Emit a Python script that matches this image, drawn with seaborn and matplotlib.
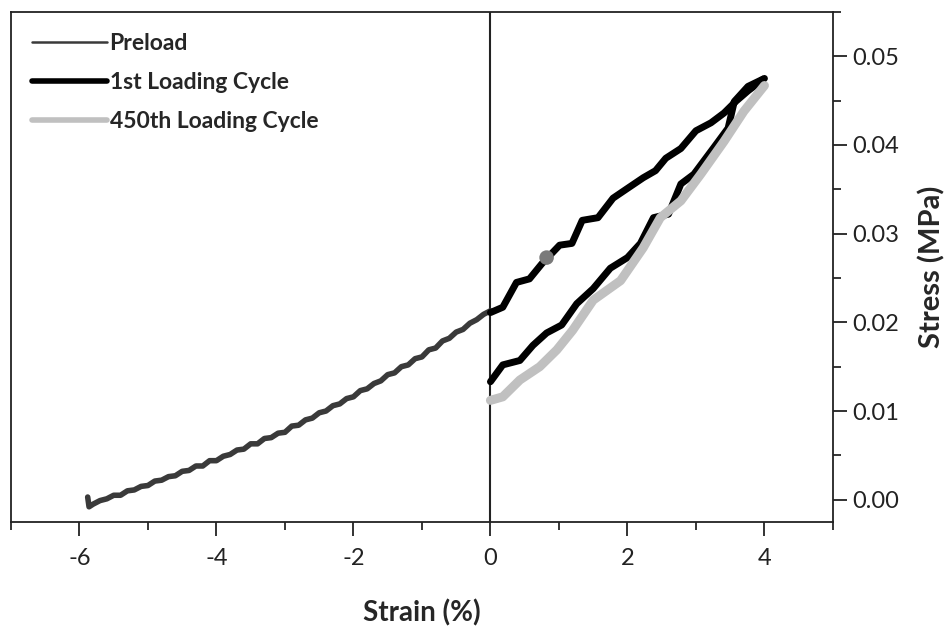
import numpy as np
import pandas as pd
import matplotlib
matplotlib.use("Agg")
import matplotlib.pyplot as plt
import seaborn as sns
from matplotlib.ticker import MultipleLocator, FormatStrFormatter

# Preload curve (strain %, stress MPa)
preload_strain = [-5.88, -5.86, -5.8, -5.7, -5.6, -5.5, -5.4, -5.3, -5.2, -5.1, -5.0,
                  -4.9, -4.8, -4.7, -4.6, -4.5, -4.4, -4.3, -4.2, -4.1, -4.0,
                  -3.9, -3.8, -3.7, -3.6, -3.5, -3.4, -3.3, -3.2, -3.1, -3.0,
                  -2.9, -2.8, -2.7, -2.6, -2.5, -2.4, -2.3, -2.2, -2.1, -2.0,
                  -1.9, -1.8, -1.7, -1.6, -1.5, -1.4, -1.3, -1.2, -1.1, -1.0,
                  -0.9, -0.8, -0.7, -0.6, -0.5, -0.4, -0.3, -0.2, -0.1, 0.0]
preload_stress = [0.0003, -0.0008, -0.0005, -0.0001, 0.0001, 0.0005, 0.0005, 0.0010, 0.0011, 0.0015, 0.0016,
                  0.0021, 0.0022, 0.0026, 0.0027, 0.0032, 0.0033, 0.0038, 0.0038, 0.0044, 0.0044,
                  0.0049, 0.0051, 0.0056, 0.0057, 0.0063, 0.0063, 0.0069, 0.0070, 0.0075, 0.0076,
                  0.0083, 0.0084, 0.0090, 0.0092, 0.0098, 0.0100, 0.0106, 0.0108, 0.0114, 0.0116,
                  0.0123, 0.0125, 0.0131, 0.0134, 0.0141, 0.0143, 0.0150, 0.0152, 0.0159, 0.0161,
                  0.0169, 0.0171, 0.0179, 0.0182, 0.0189, 0.0192, 0.0199, 0.0203, 0.0209, 0.0213]

# 1st loading cycle: lower branch up to 4 %, then upper branch back to 0
cycle1_strain = [0.0, 0.18, 0.43, 0.62, 0.82, 1.04, 1.26, 1.5, 1.75, 2.0, 2.19, 2.38, 2.6,
                 2.78, 2.97, 3.26, 3.47, 3.56, 3.76, 4.0,
                 3.76, 3.58, 3.41, 3.22, 3.0, 2.78, 2.56, 2.41, 2.23, 2.0, 1.79, 1.57,
                 1.34, 1.19, 1.01, 0.75, 0.57, 0.38, 0.18, 0.0]
cycle1_stress = [0.0133, 0.0152, 0.0157, 0.0174, 0.0188, 0.0197, 0.0221, 0.0238, 0.0261, 0.0273, 0.0289, 0.0318, 0.0322,
                 0.0356, 0.0367, 0.0397, 0.0419, 0.0449, 0.0466, 0.0475,
                 0.0461, 0.0449, 0.0436, 0.0425, 0.0416, 0.0396, 0.0385, 0.0371, 0.0363, 0.0351, 0.0340, 0.0318,
                 0.0315, 0.0289, 0.0287, 0.0266, 0.0249, 0.0245, 0.0217, 0.0211]

# 450th loading cycle
cycle450_strain = [0.0, 0.18, 0.43, 0.72, 0.97, 1.2, 1.5, 1.9, 2.23, 2.48, 2.78, 3.07, 3.41, 3.7, 4.0]
cycle450_stress = [0.0112, 0.0116, 0.0135, 0.0150, 0.0169, 0.0191, 0.0225, 0.0247, 0.0284, 0.0318, 0.0337,
                   0.0367, 0.0404, 0.0438, 0.0467]

# grey point on the 1st cycle
dot_strain = [0.82]
dot_stress = [0.0273]

sns.set_style("ticks")
plt.rcParams["font.family"] = ["Lato", "DejaVu Sans"]
plt.rcParams["axes.unicode_minus"] = False

fig = plt.figure(figsize=(9.53, 6.28), dpi=100)
ax = fig.add_axes([0.0115, 0.169, 0.8625, 0.812])

ax.axvline(0, color="#222222", lw=1.5, zorder=1)

sns.lineplot(x=preload_strain, y=preload_stress, sort=False, estimator=None,
             color="#3a3a3a", lw=4, ax=ax, label="Preload")
sns.lineplot(x=cycle1_strain, y=cycle1_stress, sort=False, estimator=None,
             color="black", lw=5, ax=ax, label="1st Loading Cycle")
sns.lineplot(x=cycle450_strain, y=cycle450_stress, sort=False, estimator=None,
             color="#c0c0c0", lw=6.5, ax=ax, label="450th Loading Cycle")
sns.scatterplot(x=dot_strain, y=dot_stress, color="#7a7a7a", s=110, ax=ax,
                edgecolor="none", zorder=5, legend=False)

ax.set_xlim(-7, 5)
ax.set_ylim(-0.0025, 0.055)

ax.xaxis.set_major_locator(MultipleLocator(2))
ax.xaxis.set_minor_locator(MultipleLocator(1))
ax.yaxis.set_major_locator(MultipleLocator(0.01))
ax.yaxis.set_minor_locator(MultipleLocator(0.005))
ax.yaxis.set_major_formatter(FormatStrFormatter("%.2f"))

ax.yaxis.tick_right()
ax.yaxis.set_label_position("right")
ax.tick_params(axis="both", which="major", direction="out", length=10, width=1.3,
               labelsize=17, colors="#222222")
ax.tick_params(axis="both", which="minor", direction="out", length=6, width=1.3)
ax.tick_params(axis="x", pad=9)
ax.tick_params(axis="y", pad=4)

for side in ax.spines.values():
    side.set_linewidth(1.3)
    side.set_color("#222222")

ax.set_xlabel("Strain (%)", fontsize=20, fontweight="bold", labelpad=22)
ax.set_ylabel("Stress (MPa)", fontsize=21, fontweight="bold", labelpad=14)

leg = ax.legend(loc="upper left", frameon=False, handlelength=3.3,
                handletextpad=0.1, labelspacing=0.8, borderaxespad=0.5,
                prop={"weight": "bold", "size": 16.5})
leg.get_lines()[0].set_linewidth(1.8)
leg.get_lines()[1].set_linewidth(4)
leg.get_lines()[2].set_linewidth(4)

fig.savefig("out.png", dpi=100)
